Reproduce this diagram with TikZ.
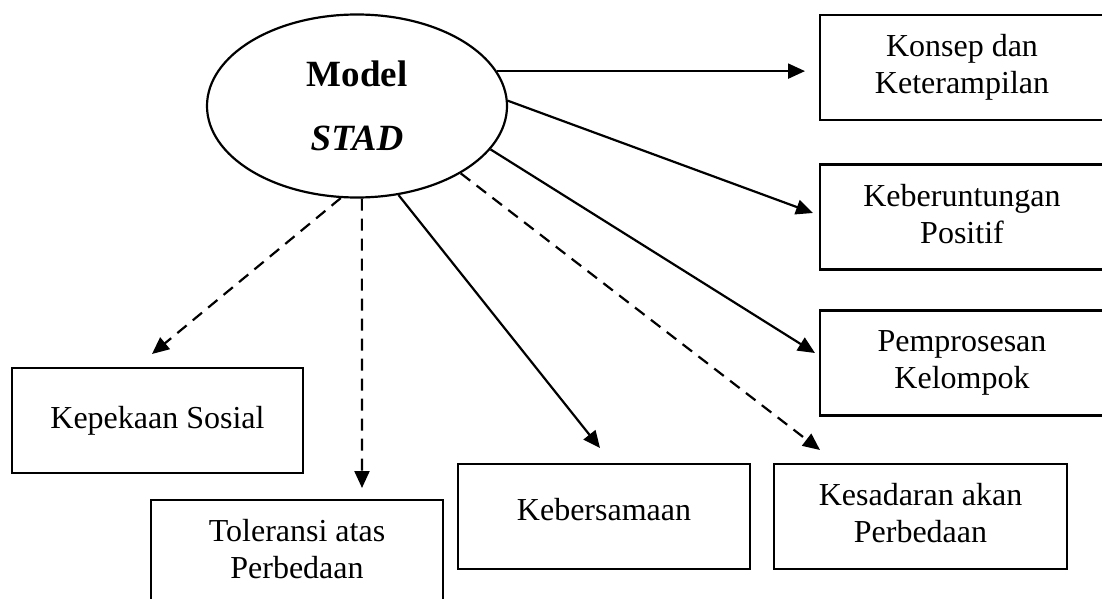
\documentclass[tikz,border=0pt]{standalone}
\usepackage{fontspec}
\setmainfont{Liberation Serif}
\usetikzlibrary{arrows.meta,shapes.geometric}
\begin{document}
\begin{tikzpicture}[x=1pt,y=-1pt,
  boxnode/.style={draw, line width=2.2pt, rectangle, minimum height=105pt, inner sep=0pt,
    align=center, font=\fontsize{32}{37}\selectfont, text depth=7pt},
  arr/.style={line width=2.2pt, -{Triangle[length=17pt,width=15pt]}},
  darr/.style={arr, dash pattern=on 12pt off 8pt}]
\useasboundingbox (0,0) rectangle (1102,599);
\clip (0,0) rectangle (1102,599);
\fill[white] (0,0) rectangle (1102,599);

\node[draw, ellipse, line width=2.2pt, minimum width=300pt, minimum height=183pt, inner sep=0pt,
  align=center, font=\fontsize{37}{64}\selectfont] (ell) at (357,106)
  {\textbf{Model}\\\textbf{\textit{STAD}}};

\node[boxnode, minimum width=284pt] (konsep) at (962,67.5) {Konsep dan\\Keterampilan};
\node[boxnode, minimum width=284pt] (keber) at (962,217) {Keberuntungan\\Positif};
\node[boxnode, minimum width=284pt] (pemp) at (962,363) {Pemprosesan\\Kelompok};
\node[boxnode, minimum width=291pt] (kepek) at (157.5,420.5) {Kepekaan Sosial};
\node[boxnode, minimum width=292pt] (toler) at (297,552.5) {Toleransi atas\\Perbedaan};
\node[boxnode, minimum width=292pt, text depth=14pt] (kebers) at (604,516.5) {Kebersamaan};
\node[boxnode, minimum width=293pt] (kesad) at (920.5,516.5) {Kesadaran akan\\Perbedaan};

\coordinate (t1) at (805,72);
\coordinate (t2) at (813,213);
\coordinate (t3) at (815,353);
\coordinate (t4) at (820,450);
\coordinate (t5) at (600,448);
\coordinate (t6) at (362,488);
\coordinate (t7) at (152,354);

\draw[arr] (ell.14) -- (ell.14 -| t1);
\draw[arr] (ell.2.3) -- (t2);
\draw[arr] (ell.-18) -- (t3);
\draw[darr] (ell.-33) -- (t4);
\draw[arr] (ell.-65) -- (t5);
\draw[darr] (ell.-87) -- (t6);
\draw[darr] (ell.-100) -- (t7);
\end{tikzpicture}
\end{document}
